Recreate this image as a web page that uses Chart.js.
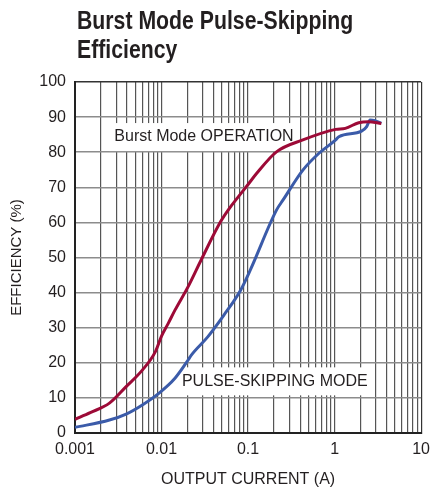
<!DOCTYPE html>
<html>
<head>
<meta charset="utf-8">
<script src="https://cdn.jsdelivr.net/npm/chart.js@4.4.1/dist/chart.umd.min.js"></script>
<style>
  html, body { margin: 0; padding: 0; background: #fff; }
  canvas { display: block; }
</style>
</head>
<body>
<canvas id="eff-chart" width="437" height="489"></canvas>
<script>
'use strict';

// ****** DATA ******
let chartTitle = ['Burst Mode Pulse-Skipping', 'Efficiency'];

let burstCurrent = [0.001, 0.0015, 0.0025, 0.0039, 0.006, 0.0085, 0.01, 0.012, 0.0143, 0.0203, 0.0287, 0.0484, 0.06, 0.075, 0.1, 0.126, 0.213, 0.43, 1.03, 1.33, 1.9, 2.46, 3.47];
let burstEff = [3.9, 5.8, 8.5, 13.2, 17.9, 23.2, 27.6, 31.3, 35, 41.7, 49.3, 60.3, 63.8, 66.9, 70.8, 74, 80.1, 83.5, 86.5, 86.8, 88.4, 88.7, 88.2];

let skipCurrent = [0.001, 0.0025, 0.0039, 0.006, 0.0093, 0.0143, 0.0203, 0.0221, 0.0342, 0.0526, 0.082, 0.106, 0.213, 0.254, 0.43, 0.66, 1.03, 1.12, 2.05, 2.35, 2.57, 2.93, 3.47];
let skipEff = [1.6, 3.7, 5.4, 8, 11.3, 15.6, 20.8, 22.2, 27.4, 33.6, 40.7, 46.4, 63.5, 66.4, 74.9, 79.7, 83.5, 84.4, 86, 87.3, 89.2, 89, 88.2];

let xTickValues = [0.001, 0.01, 0.1, 1, 10];
let xTickLabels = ['0.001', '0.01', '0.1', '1', '10'];
let yTickMin = 0;
let yTickMax = 100;
let yTickStep = 10;

// curve labels, anchored in data units
let curveLabels = [
  { text: 'Burst Mode OPERATION', x: 0.00285, y: 84.6 },
  { text: 'PULSE-SKIPPING MODE', x: 0.0172, y: 15.0 }
];

// ****** HELPERS ******
function toPoints(xs, ys) {
  let pts = [];
  for (let i = 0; i < xs.length; i++) {
    pts.push({ x: xs[i], y: ys[i] });
  }
  return pts;
}

function isDecade(value) {
  for (let i = 0; i < xTickValues.length; i++) {
    if (Math.abs(Math.log10(value) - Math.log10(xTickValues[i])) < 1e-6) {
      return i;
    }
  }
  return -1;
}

let textColor = '#231f20';
let baseFont = '"Liberation Sans", Arial, sans-serif';

// ****** PLUGINS ******
let labelBoxes = {
  id: 'labelBoxes',
  beforeDatasetsDraw(chart) {
    let ctx = chart.ctx;
    let xs = chart.scales.x;
    let ys = chart.scales.y;
    ctx.save();
    ctx.font = '16px ' + baseFont;
    ctx.textBaseline = 'middle';
    ctx.textAlign = 'left';
    curveLabels.forEach(function (lab) {
      let px = xs.getPixelForValue(lab.x);
      let py = ys.getPixelForValue(lab.y);
      let w = ctx.measureText(lab.text).width;
      ctx.fillStyle = '#fff';
      ctx.fillRect(px - 5, py - 13, w + 10, 28);
      ctx.fillStyle = textColor;
      ctx.fillText(lab.text, px, py + 1);
    });
    ctx.restore();
  }
};

// condensed bold title: squeeze a bold sans horizontally
let titleText = {
  id: 'titleText',
  afterDraw(chart) {
    let ctx = chart.ctx;
    ctx.save();
    ctx.font = 'bold 25px ' + baseFont;
    ctx.fillStyle = textColor;
    ctx.textBaseline = 'alphabetic';
    ctx.textAlign = 'left';
    ctx.translate(77, 0);
    ctx.scale(0.85, 1);
    ctx.fillText(chartTitle[0], 0, 29);
    ctx.fillText(chartTitle[1], 0, 58);
    ctx.restore();
  }
};

// ****** CHART ******
let canvasElem = document.getElementById('eff-chart').getContext('2d');

let myChartObj = {
  type: 'line',
  data: {
    datasets: [{
      label: 'Burst Mode',
      data: toPoints(burstCurrent, burstEff),
      borderColor: '#9d0a37',
      borderWidth: 3,
      pointRadius: 0,
      cubicInterpolationMode: 'monotone',
      fill: false
    },
    {
      label: 'Pulse-Skipping',
      data: toPoints(skipCurrent, skipEff),
      borderColor: '#3b5ba9',
      borderWidth: 3,
      pointRadius: 0,
      cubicInterpolationMode: 'monotone',
      fill: false
    }]
  },
  options: {
    responsive: false,
    animation: false,
    events: [],
    layout: { padding: { top: 82, right: 10, left: 0, bottom: 0 } },
    plugins: {
      legend: { display: false },
      tooltip: { enabled: false },
      title: { display: false }
    },
    scales: {
      x: {
        type: 'logarithmic',
        min: xTickValues[0],
        max: xTickValues[xTickValues.length - 1],
        afterBuildTicks: function (scale) {
          let ticks = [];
          for (let d = 0; d < xTickValues.length; d++) {
            let dec = xTickValues[d];
            let top = d === xTickValues.length - 1 ? 1 : 9;
            for (let m = 1; m <= top; m++) {
              ticks.push({ value: Number((m * dec).toPrecision(3)) });
            }
          }
          scale.ticks = ticks;
        },
        afterFit: function (scale) { scale.height = 56; },
        grid: {
          color: function (c) {
            return c.tick && c.tick.value === 10 ? '#333' : '#555';
          },
          lineWidth: 1.2,
          drawTicks: false
        },
        border: { color: '#222', width: 2 },
        ticks: {
          autoSkip: false,
          maxRotation: 0,
          padding: 7,
          color: textColor,
          font: { size: 16, family: baseFont },
          callback: function (value) {
            let i = isDecade(value);
            return i >= 0 ? xTickLabels[i] : '';
          }
        },
        title: {
          display: true,
          text: 'OUTPUT CURRENT (A)',
          color: textColor,
          font: { size: 16, family: baseFont },
          padding: { top: 0, bottom: 0 }
        }
      },
      y: {
        min: yTickMin,
        max: yTickMax,
        afterFit: function (scale) { scale.width = 75; },
        grid: {
          color: function (c) {
            return c.tick && c.tick.value === 100 ? '#333' : '#8c8c8c';
          },
          lineWidth: 1.5,
          drawTicks: false
        },
        border: { color: '#222', width: 2 },
        ticks: {
          stepSize: yTickStep,
          padding: 9,
          color: textColor,
          font: { size: 16, family: baseFont }
        },
        title: {
          display: true,
          text: 'EFFICIENCY (%)',
          color: textColor,
          font: { size: 15, family: baseFont },
          padding: { top: 8, bottom: 0 }
        }
      }
    }
  },
  plugins: [labelBoxes, titleText]
};

new Chart(canvasElem, myChartObj);
</script>
</body>
</html>
